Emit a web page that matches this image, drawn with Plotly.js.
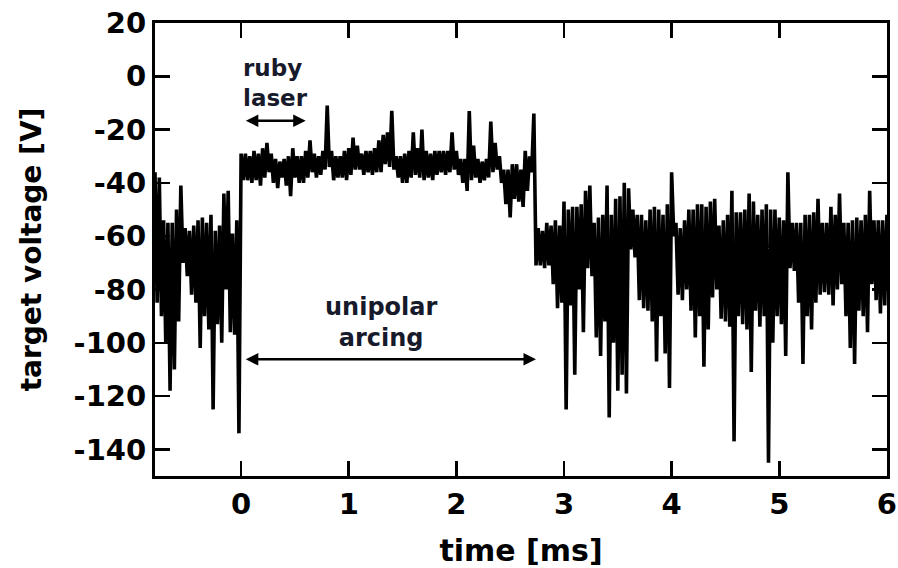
<!DOCTYPE html>
<html>
<head>
<meta charset="utf-8">
<script src="https://cdn.plot.ly/plotly-3.0.1.min.js"></script>
<style>
  html, body { margin: 0; padding: 0; background: #fff; }
  #chart { width: 898px; height: 568px; }
</style>
</head>
<body>
<div id="chart"></div>
<script>
// Sampling of the recorded trace (ms)
const timeStart = -0.8;
const timeStep = 0.04;

// Upper envelope of the target voltage trace [V], one value per sample
const upperEnvelope = [
  -36, -38, -54, -55, -55, -50, -41, -57, -58, -56, -54, -53, -55, -52, -58, -56, -44, -43, -59, -54, -29,
  -29, -30, -28, -29, -27, -25, -29, -31, -32, -31, -30, -27, -30,
  -30, -28, -24, -29, -30, -28, -11, -28, -30, -30, -28, -27,
  -23, -26, -29, -28, -28, -27, -24, -22, -21, -13, -30, -30, -29,
  -28, -21, -27, -20, -28, -29, -28, -28, -28, -28, -21, -28,
  -31, -31, -13, -26, -31, -32, -31, -17, -25, -30, -35, -35, -33,
  -33, -35, -28, -30, -14,
  -57, -58, -55, -56, -54, -56, -47, -50, -49, -49, -48,
  -43, -41, -55, -53, -52, -41, -52, -46, -45, -40,
  -42, -50, -52, -52, -54, -50, -49, -50, -52, -48,
  -36, -55, -57, -54, -50, -50, -48, -48, -49, -47,
  -46, -56, -54, -52, -43, -51, -51, -50, -44, -47,
  -52, -50, -48, -50, -50, -53, -54, -36, -55, -55,
  -55, -52, -52, -51, -46, -55, -55, -49, -52, -44,
  -55, -55, -54, -53, -54, -52, -43, -54, -54, -54, -52
];

// Lower envelope of the target voltage trace [V], one value per sample
const lowerEnvelope = [
  -85, -90, -100, -118, -110, -92, -70, -75, -82, -85, -102, -90, -95, -125, -93, -100, -80, -96, -97, -134, -39,
  -39, -40, -39, -41, -38, -36, -40, -42, -38, -41, -45, -38, -40,
  -40, -38, -36, -38, -37, -35, -34, -39, -38, -38, -39, -37,
  -35, -35, -37, -36, -37, -36, -36, -33, -34, -35, -38, -40, -40,
  -38, -37, -38, -39, -38, -39, -37, -36, -37, -36, -35, -37,
  -40, -43, -39, -38, -40, -39, -38, -36, -35, -40, -48, -53, -46,
  -47, -49, -43, -36, -71,
  -71, -72, -71, -78, -87, -85, -125, -86, -112, -80, -96,
  -72, -75, -98, -105, -92, -128, -100, -118, -112, -119,
  -65, -68, -84, -87, -88, -92, -107, -90, -104, -117,
  -60, -82, -84, -80, -88, -98, -90, -109, -95, -83,
  -80, -91, -92, -94, -137, -90, -93, -95, -111, -88,
  -94, -90, -145, -100, -90, -93, -105, -72, -73, -85,
  -108, -90, -95, -85, -82, -81, -82, -86, -80, -78,
  -90, -102, -108, -88, -90, -96, -78, -84, -89, -86, -80
];

const xTickValues = [0, 1, 2, 3, 4, 5, 6];
const xTickLabels = ['0', '1', '2', '3', '4', '5', '6'];
const yTickValues = [-140, -120, -100, -80, -60, -40, -20, 0, 20];
const yTickLabels = ['-140', '-120', '-100', '-80', '-60', '-40', '-20', '0', '20'];

// trace: each sample contributes its upper then lower reading
const traceTime = [];
const traceVoltage = [];
for (let i = 0; i < upperEnvelope.length; i++) {
  traceTime.push(timeStart + i * timeStep);
  traceVoltage.push(upperEnvelope[i]);
  traceTime.push(timeStart + (i + 0.5) * timeStep);
  traceVoltage.push(lowerEnvelope[i]);
}

const boldFont = (size, color) => ({ family: 'DejaVu Sans, Arial, sans-serif', size: size, color: color || '#000', weight: 'bold' });
const noteColor = '#161a2a';

const data = [{
  type: 'scatter',
  mode: 'lines',
  x: traceTime,
  y: traceVoltage,
  line: { color: '#000', width: 3.6 },
  hoverinfo: 'x+y',
  showlegend: false
}];

const axisCommon = {
  showline: true, linecolor: '#000', linewidth: 3,
  mirror: 'ticks', ticks: 'inside', ticklen: 15, tickwidth: 2.5, tickcolor: '#000',
  showgrid: false, zeroline: false, tickmode: 'array', ticklabeloverflow: 'allow'
};

const layout = {
  width: 898, height: 568,
  margin: { l: 155, r: 11, t: 23, b: 92 },
  paper_bgcolor: '#fff', plot_bgcolor: '#fff',
  showlegend: false,
  xaxis: Object.assign({}, axisCommon, {
    range: [-0.8, 6.001],
    tickvals: xTickValues, ticktext: xTickLabels,
    tickfont: boldFont(29),
    title: { text: 'time [ms]', font: boldFont(30), standoff: 22 }
  }),
  yaxis: Object.assign({}, axisCommon, {
    range: [-150, 20],
    tickvals: yTickValues, ticktext: yTickLabels,
    tickfont: boldFont(29),
    title: { text: 'target voltage [V]', font: boldFont(28), standoff: 24 }
  }),
  annotations: [
    { x: 0.0, y: -2.5, xref: 'x', yref: 'y', text: 'ruby<br>laser', showarrow: false, xanchor: 'left', yanchor: 'middle', align: 'left', font: boldFont(23, noteColor) },
    { x: 1.30, y: -92.3, xref: 'x', yref: 'y', text: 'unipolar<br>arcing', showarrow: false, xanchor: 'center', yanchor: 'middle', align: 'center', font: boldFont(24, noteColor) },
    { x: 0.60, y: -16.7, ax: 0.03, ay: -16.7, xref: 'x', yref: 'y', axref: 'x', ayref: 'y', text: '',
      showarrow: true, arrowside: 'end+start', arrowhead: 2, startarrowhead: 2, arrowsize: 1, startarrowsize: 1, arrowwidth: 2.5, arrowcolor: '#000', standoff: 0, startstandoff: 0 },
    { x: 2.74, y: -106.2, ax: 0.03, ay: -106.2, xref: 'x', yref: 'y', axref: 'x', ayref: 'y', text: '',
      showarrow: true, arrowside: 'end+start', arrowhead: 2, startarrowhead: 2, arrowsize: 1, startarrowsize: 1, arrowwidth: 2.5, arrowcolor: '#000', standoff: 0, startstandoff: 0 }
  ]
};

Plotly.newPlot('chart', data, layout, { displayModeBar: false, staticPlot: true });
</script>
</body>
</html>
